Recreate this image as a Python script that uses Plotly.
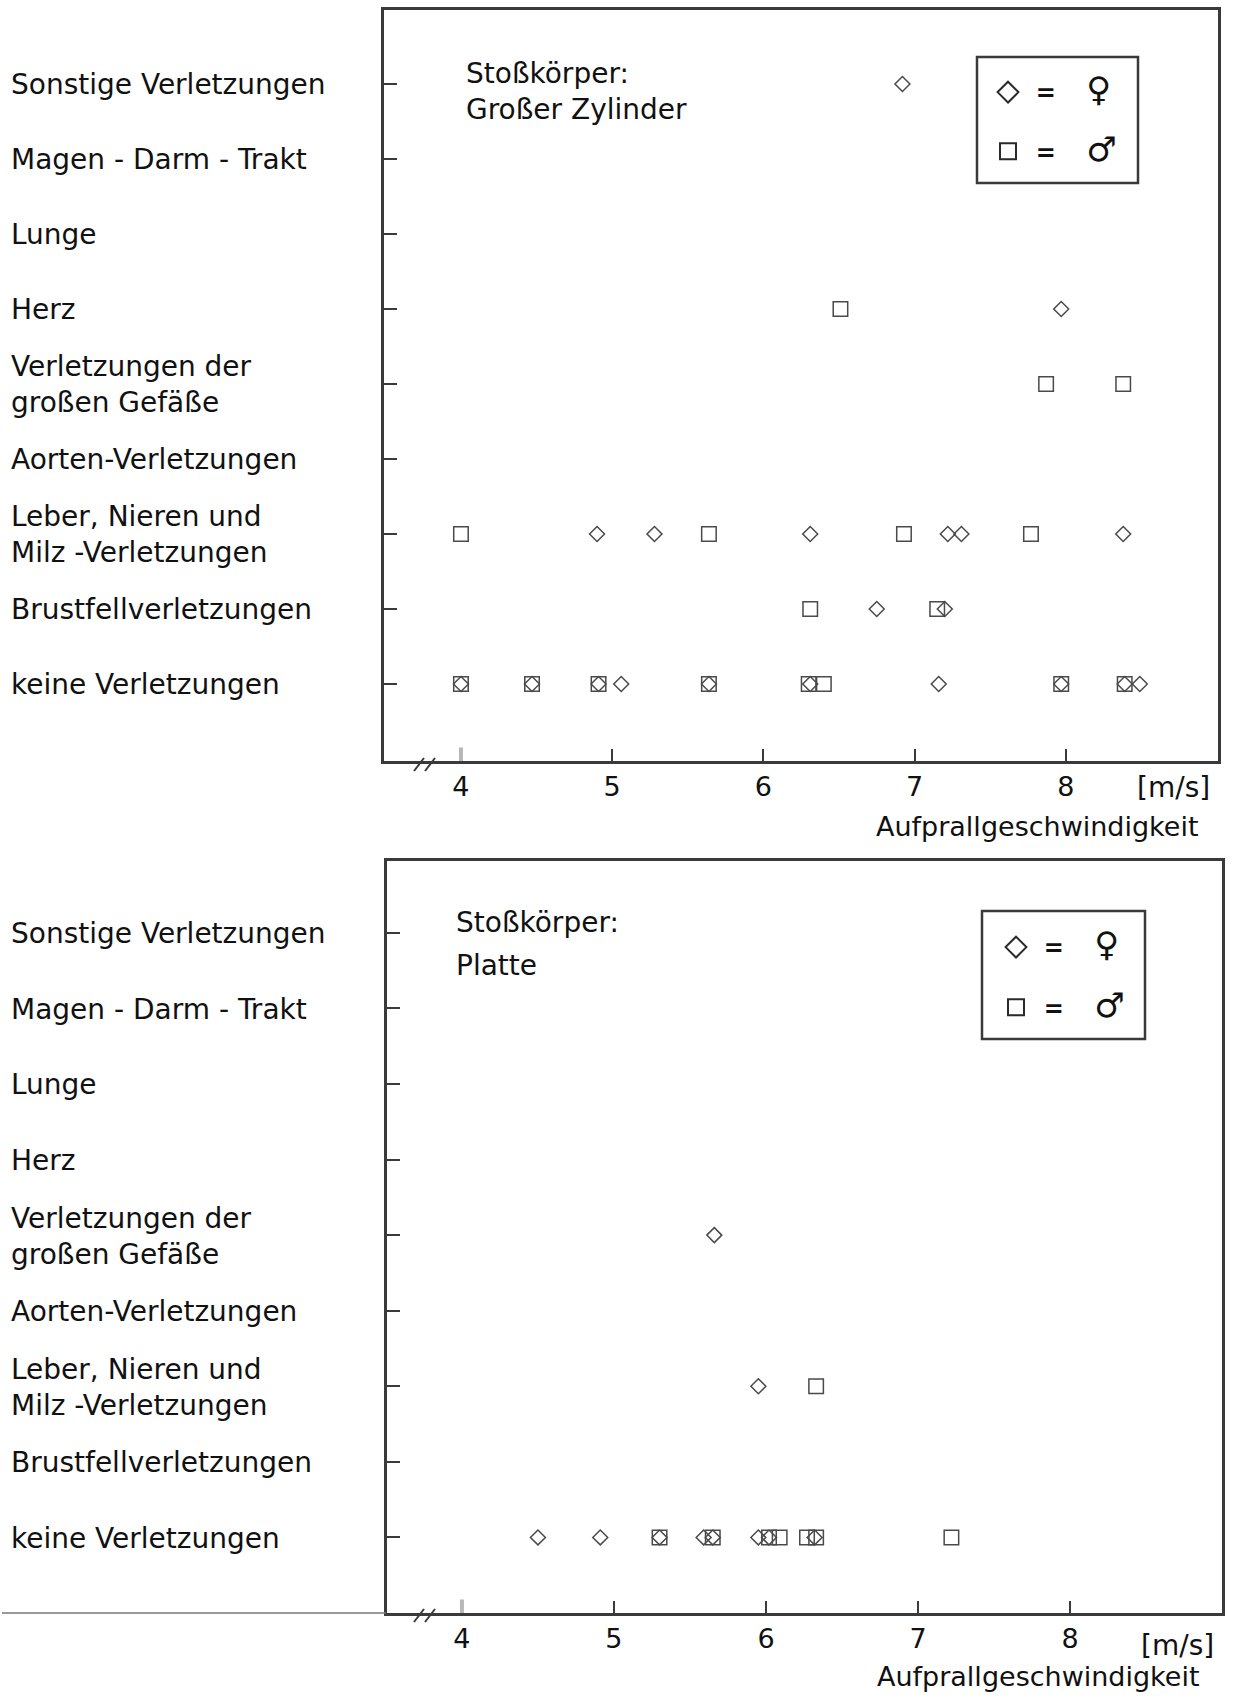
import plotly.graph_objects as go

W, H = 1239, 1701

# ---------------- data ----------------
categories = [
    "keine Verletzungen",
    "Brustfellverletzungen",
    "Leber, Nieren und<br>Milz -Verletzungen",
    "Aorten-Verletzungen",
    "Verletzungen der<br>großen Gefäße",
    "Herz",
    "Lunge",
    "Magen - Darm - Trakt",
    "Sonstige Verletzungen",
]
x_ticks = [4, 5, 6, 7, 8]
x_ticklabels = ["4", "5", "6", "7", "8"]

# Stoßkörper: Großer Zylinder
zyl_female_x = [6.92, 7.97, 4.90, 5.28, 6.31, 7.22, 7.31, 8.38, 6.75, 7.20,
                4.00, 4.47, 4.91, 5.06, 5.64, 6.31, 7.16, 7.97, 8.39, 8.49]
zyl_female_y = [8, 5, 2, 2, 2, 2, 2, 2, 1, 1,
                0, 0, 0, 0, 0, 0, 0, 0, 0, 0]
zyl_male_x = [6.51, 7.87, 8.38, 4.00, 5.64, 6.93, 7.77, 6.31, 7.15,
              4.00, 4.47, 4.91, 5.64, 6.30, 6.40, 7.97, 8.39]
zyl_male_y = [5, 4, 4, 2, 2, 2, 2, 1, 1,
              0, 0, 0, 0, 0, 0, 0, 0]

# Stoßkörper: Platte
pla_female_x = [5.66, 5.95, 4.50, 4.91, 5.30, 5.59, 5.65, 5.95, 6.02, 6.32]
pla_female_y = [4, 2, 0, 0, 0, 0, 0, 0, 0, 0]
pla_male_x = [6.33, 5.30, 5.65, 6.02, 6.09, 6.27, 6.33, 7.22]
pla_male_y = [2, 0, 0, 0, 0, 0, 0, 0]

FONT = "DejaVu Sans"
INK = "#111111"
FRAME = "#3a3a3a"
MK = "#4a4a4a"


def px(x):
    return x / W


def py(y):
    return 1 - y / H


fig = go.Figure()


def add_points(xs, ys, symbol, size, xa, ya, name):
    fig.add_trace(go.Scatter(
        x=xs, y=[categories[i] for i in ys], mode="markers", name=name,
        xaxis=xa, yaxis=ya, showlegend=False, hoverinfo="x+y",
        marker=dict(symbol=symbol, size=size, color=MK,
                    line=dict(color=MK, width=1.5)),
    ))


add_points(zyl_female_x, zyl_female_y, "diamond-open", 11.5, "x", "y", "♀")
add_points(zyl_male_x, zyl_male_y, "square-open", 14.5, "x", "y", "♂")
add_points(pla_female_x, pla_female_y, "diamond-open", 11.5, "x2", "y2", "♀")
add_points(pla_male_x, pla_male_y, "square-open", 14.5, "x2", "y2", "♂")

# legend entries (one legend per panel)
fem_txt = "\u00a0<b>=</b>\u00a0\u00a0\u00a0\u00a0<span style='font-size:34px'>♀</span>"
mal_txt = "\u00a0<b>=</b>\u00a0\u00a0\u00a0\u00a0<span style='font-size:34px'>♂</span>"
for lg, xa, ya in (("legend", "x", "y"), ("legend2", "x2", "y2")):
    fig.add_trace(go.Scatter(x=[None], y=[None], mode="markers", name=fem_txt,
                             legend=lg, legendgroup=lg + "f", xaxis=xa, yaxis=ya,
                             marker=dict(symbol="diamond-open", size=16, color="#2a2a2a",
                                         line=dict(color="#2a2a2a", width=2))))
    fig.add_trace(go.Scatter(x=[None], y=[None], mode="markers", name=mal_txt,
                             legend=lg, legendgroup=lg + "m", xaxis=xa, yaxis=ya,
                             marker=dict(symbol="square-open", size=16, color="#2a2a2a",
                                         line=dict(color="#2a2a2a", width=2))))

common_x = dict(
    tickvals=x_ticks, ticktext=x_ticklabels, ticks="inside", ticklen=12,
    tickwidth=2, tickcolor=FRAME, showline=True, linewidth=3, linecolor=FRAME,
    mirror=True, showgrid=False, zeroline=False,
    tickfont=dict(family=FONT, size=27, color=INK),
)
common_y = dict(
    type="category", categoryorder="array", categoryarray=categories,
    ticks="inside", ticklen=13, tickwidth=1.5, tickcolor=FRAME,
    showticklabels=False, showline=True, linewidth=3, linecolor=FRAME,
    mirror=True, showgrid=False, zeroline=False,
)

fig.update_layout(
    width=W, height=H, margin=dict(l=0, r=0, t=0, b=0),
    paper_bgcolor="white", plot_bgcolor="white",
    font=dict(family=FONT, color=INK),
    xaxis=dict(domain=[px(384), px(1218)], range=[3.491, 9.007], anchor="y", **common_x),
    yaxis=dict(domain=[py(761), py(9.5)], range=[-1.027, 8.993], anchor="x", **common_y),
    xaxis2=dict(domain=[px(387), px(1222)], range=[3.507, 9.0], anchor="y2", **common_x),
    yaxis2=dict(domain=[py(1613), py(861)], range=[-1.0, 8.95], anchor="x2", **common_y),
    legend=dict(x=px(988), y=py(70), xanchor="left", yanchor="top",
                bgcolor="rgba(0,0,0,0)", borderwidth=0, tracegroupgap=25,
                font=dict(family=FONT, size=24, color=INK), traceorder="grouped"),
    legend2=dict(x=px(996), y=py(925), xanchor="left", yanchor="top",
                 bgcolor="rgba(0,0,0,0)", borderwidth=0, tracegroupgap=26,
                 font=dict(family=FONT, size=24, color=INK), traceorder="grouped"),
)

annotations = []
# category labels on the left
for ya, shift in (("y", -1), ("y2", -1)):
    for c in categories:
        annotations.append(dict(
            text=c, xref="paper", x=px(9), xanchor="left", align="left",
            yref=ya, y=c, yanchor="middle", yshift=shift, showarrow=False,
            font=dict(family=FONT, size=28, color=INK)))


def txt(t, x, y, size=28, anchor="left"):
    annotations.append(dict(text=t, xref="paper", yref="paper", x=px(x), y=py(y),
                            xanchor=anchor, yanchor="middle", showarrow=False,
                            font=dict(family=FONT, size=size, color=INK)))


txt("Stoßkörper:", 464, 74)
txt("Großer Zylinder", 464, 110)
txt("Stoßkörper:", 454, 922)
txt("Platte", 454, 965)
txt("[m/s]", 1173, 787, 28, "center")
txt("[m/s]", 1177, 1645, 28, "center")
txt("Aufprallgeschwindigkeit", 1037, 826, 27, "center")
txt("Aufprallgeschwindigkeit", 1038, 1676, 27, "center")
fig.update_layout(annotations=annotations)

shapes = []
# legend boxes
for (x0, y0, x1, y1) in ((977, 57, 1138, 183), (982, 911, 1145, 1039)):
    shapes.append(dict(type="rect", xref="paper", yref="paper",
                       x0=px(x0), x1=px(x1), y0=py(y0), y1=py(y1),
                       line=dict(color=FRAME, width=2.5)))
# axis-break marks and faint tick at 4
for yb in (762, 1613):
    for dx in (0, 11):
        shapes.append(dict(type="line", xref="paper", yref="paper",
                           x0=px(414 + dx), y0=py(yb + 9), x1=px(424 + dx), y1=py(yb - 4),
                           line=dict(color=FRAME, width=2)))
for xa, ya in (("x", "y"), ("x2", "y2")):
    shapes.append(dict(type="line", xref=xa, yref=ya + " domain", x0=4, x1=4,
                       y0=0, y1=0.018, line=dict(color="#b8b8b8", width=4)))
# thin line continuing the lower axis to the page edge
shapes.append(dict(type="line", xref="paper", yref="paper", x0=px(2), x1=px(386),
                   y0=py(1613), y1=py(1613), line=dict(color="#777777", width=1.5)))
fig.update_layout(shapes=shapes)

fig.write_html("out.html", config={"displayModeBar": False},
               post_script="document.body.style.margin='0';document.body.style.overflow='hidden';")
